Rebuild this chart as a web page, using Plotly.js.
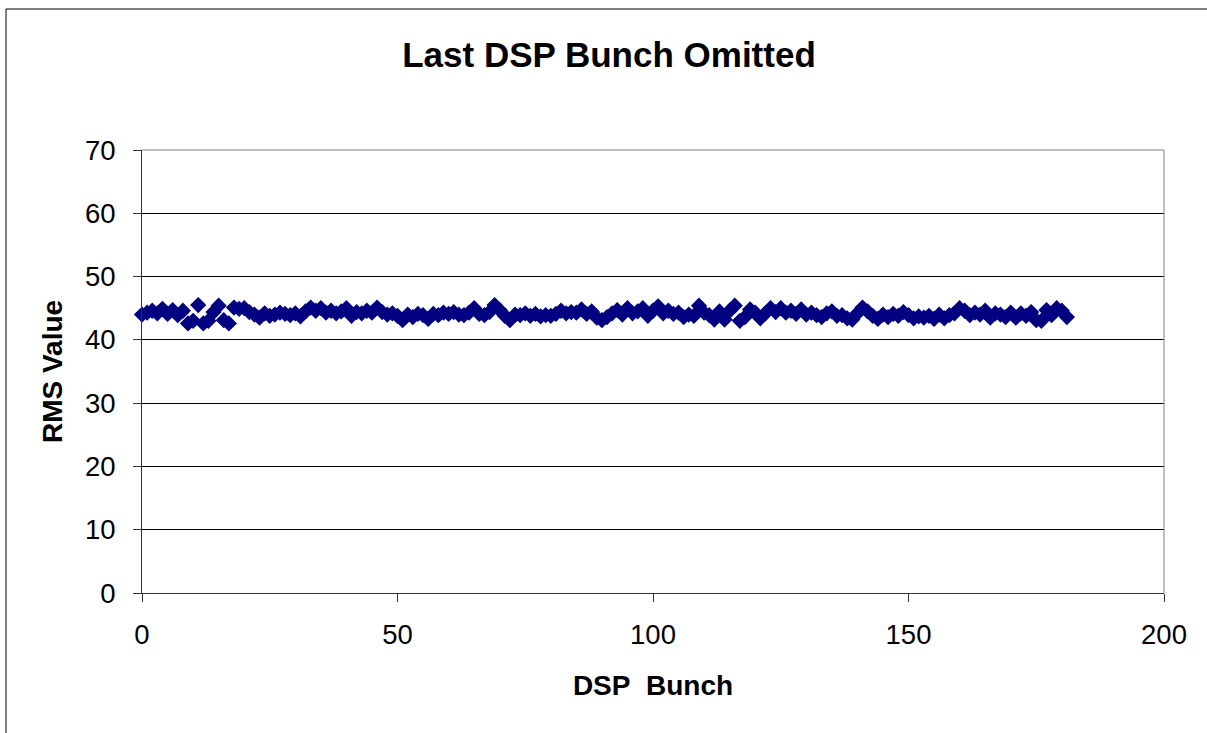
<!DOCTYPE html>
<html>
<head>
<meta charset="utf-8">
<script src="https://cdn.plot.ly/plotly-3.0.1.min.js"></script>
<style>html,body{margin:0;padding:0;background:#fff;}#chart{width:1207px;height:733px;}</style>
</head>
<body>
<div id="chart"></div>
<script>
const chartTitle = "Last DSP Bunch Omitted";
const xTitle = "DSP\u00a0 Bunch";
const yTitle = "RMS Value";
const xTicks = [0, 50, 100, 150, 200];
const yTicks = [0, 10, 20, 30, 40, 50, 60, 70];

const bunch = [
  0,1,2,3,4,5,6,7,8,9,
  10,11,12,13,14,15,16,17,18,19,
  20,21,22,23,24,25,26,27,28,29,
  30,31,32,33,34,35,36,37,38,39,
  40,41,42,43,44,45,46,47,48,49,
  50,51,52,53,54,55,56,57,58,59,
  60,61,62,63,64,65,66,67,68,69,
  70,71,72,73,74,75,76,77,78,79,
  80,81,82,83,84,85,86,87,88,89,
  90,91,92,93,94,95,96,97,98,99,
  100,101,102,103,104,105,106,107,108,109,
  110,111,112,113,114,115,116,117,118,119,
  120,121,122,123,124,125,126,127,128,129,
  130,131,132,133,134,135,136,137,138,139,
  140,141,142,143,144,145,146,147,148,149,
  150,151,152,153,154,155,156,157,158,159,
  160,161,162,163,164,165,166,167,168,169,
  170,171,172,173,174,175,176,177,178,179,
  180,181
];

const rmsValue = [
  44.0, 44.3, 44.6, 44.2, 44.9, 44.1, 44.7, 43.9, 44.6, 42.6,
  43.0, 45.5, 42.6, 43.0, 44.4, 45.4, 43.1, 42.6, 45.1, 44.9,
  45.0, 44.4, 44.0, 43.5, 44.2, 43.8, 44.0, 44.3, 44.1, 43.9,
  44.2, 43.7, 44.5, 45.1, 44.6, 45.0, 44.3, 44.6, 44.2, 44.5,
  45.0, 43.8, 44.4, 44.2, 44.6, 44.3, 45.1, 44.4, 44.0, 44.2,
  43.8, 43.1, 44.0, 43.6, 44.1, 43.9, 43.3, 44.1, 43.9, 44.3,
  44.1, 44.4, 44.0, 43.9, 44.3, 45.0, 44.1, 43.9, 44.4, 45.5,
  44.7, 43.8, 43.1, 44.0, 43.9, 44.2, 43.8, 44.1, 43.7, 43.9,
  43.8, 44.1, 44.6, 44.2, 44.4, 44.3, 44.8, 44.1, 44.5, 43.5,
  43.1, 43.6, 44.2, 44.7, 44.0, 45.0, 44.2, 44.5, 45.0, 43.8,
  44.6, 45.3, 44.2, 44.6, 44.1, 44.3, 43.6, 44.0, 43.8, 45.4,
  44.3, 43.9, 43.2, 44.5, 43.2, 44.6, 45.4, 43.0, 43.6, 44.8,
  44.3, 43.4, 44.2, 45.0, 44.4, 45.0, 44.3, 44.6, 44.1, 44.8,
  44.0, 44.3, 43.9, 43.6, 44.2, 44.5, 43.8, 43.9, 43.4, 43.2,
  44.2, 45.1, 44.5, 43.8, 43.3, 44.0, 43.6, 44.1, 43.8, 44.4,
  43.9, 43.4, 43.7, 43.5, 43.8, 43.3, 44.0, 43.4, 43.9, 44.2,
  45.0, 44.6, 43.9, 44.3, 44.0, 44.6, 43.5, 44.2, 44.0, 43.6,
  44.3, 43.5, 44.2, 43.8, 44.4, 43.1, 43.0, 44.7, 43.9, 45.0,
  44.6, 43.6
];

const FONT = "'Liberation Sans', Arial, Helvetica, sans-serif";

const trace = {
  type: 'scatter',
  mode: 'markers',
  x: bunch,
  y: rmsValue,
  cliponaxis: false,
  marker: {symbol: 'diamond', size: 12.5, color: '#000080', line: {width: 0}},
  hoverinfo: 'x+y'
};

const layout = {
  width: 1207,
  height: 733,
  margin: {l: 142, r: 43, t: 150, b: 140, pad: 0},
  paper_bgcolor: '#ffffff',
  plot_bgcolor: '#ffffff',
  showlegend: false,
  font: {family: FONT, color: '#000000', size: 27},
  title: {
    text: chartTitle,
    font: {family: FONT, size: 35, color: '#000000', weight: 'bold'},
    xref: 'container', yref: 'container',
    x: 609/1207, xanchor: 'center',
    y: 1 - 55/733, yanchor: 'middle'
  },
  xaxis: {
    range: [0, 200],
    tickvals: xTicks,
    ticktext: xTicks.map(String),
    ticks: 'outside', ticklen: 8, tickwidth: 1, tickcolor: '#333333',
    tickfont: {family: FONT, size: 27.5, color: '#000000'},
    ticklabelstandoff: 9,
    showline: true, linecolor: '#333333', linewidth: 1,
    showgrid: false, zeroline: false,
    title: {text: xTitle, font: {family: FONT, size: 28, color: '#000000', weight: 'bold'}, standoff: 26}
  },
  yaxis: {
    range: [0, 70],
    tickvals: yTicks,
    ticktext: yTicks.map(String),
    ticks: 'outside', ticklen: 8, tickwidth: 1, tickcolor: '#333333',
    tickfont: {family: FONT, size: 27.5, color: '#000000'},
    ticklabelstandoff: 12,
    showline: true, linecolor: '#333333', linewidth: 1,
    showgrid: true, gridcolor: '#000000', gridwidth: 1,
    zeroline: false,
    title: {text: yTitle, font: {family: FONT, size: 28, color: '#000000', weight: 'bold'}, standoff: 14}
  },
  shapes: [
    {type: 'line', xref: 'paper', yref: 'paper', x0: 0, x1: 1, y0: 1, y1: 1, line: {color: '#808080', width: 1}},
    {type: 'line', xref: 'paper', yref: 'paper', x0: 1, x1: 1, y0: 0, y1: 1, line: {color: '#808080', width: 1}},
    {type: 'line', xref: 'paper', yref: 'paper', x0: (6-142)/1022, x1: (6-142)/1022, y0: (593-740)/443, y1: (593-9)/443, line: {color: '#000000', width: 1}},
    {type: 'line', xref: 'paper', yref: 'paper', x0: (6-142)/1022, x1: (1215-142)/1022, y0: (593-9)/443, y1: (593-9)/443, line: {color: '#000000', width: 1}}
  ]
};

Plotly.newPlot('chart', [trace], layout, {displayModeBar: false, staticPlot: true});
</script>
</body>
</html>
